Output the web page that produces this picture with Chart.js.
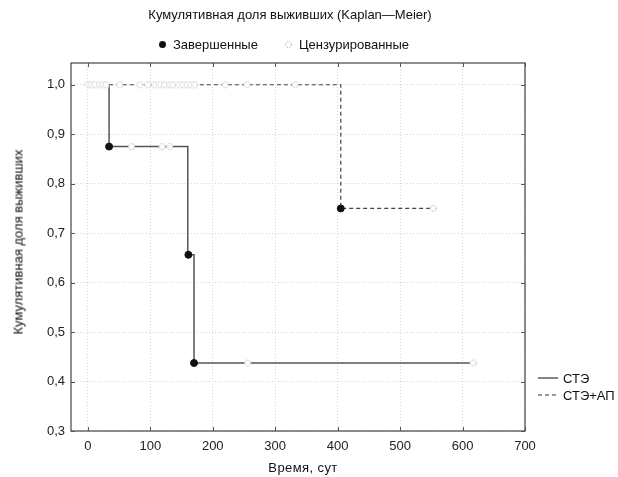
<!DOCTYPE html>
<html><head><meta charset="utf-8">
<script src="https://cdn.jsdelivr.net/npm/chart.js@4.4.0/dist/chart.umd.min.js"></script>
<style>
html,body{margin:0;padding:0;background:#fff;}
#wrap{position:relative;width:618px;height:477px;font-family:"Liberation Sans",Arial,sans-serif;color:#111;}
#c{position:absolute;left:0;top:0;}
.t{position:absolute;white-space:nowrap;line-height:1;}
</style></head><body>
<div id="wrap">
<canvas id="c" width="618" height="477"></canvas>
<div class="t" style="left:0;width:580px;top:8px;text-align:center;font-size:13px;">Кумулятивная доля выживших (Kaplan—Meier)</div>
<div class="t" style="left:158px;top:38px;font-size:13px;"><svg width="9" height="9" style="vertical-align:0px;margin-right:6px"><circle cx="4.5" cy="4.5" r="3.5" fill="#111"/></svg>Завершенные</div>
<div class="t" style="left:284px;top:38px;font-size:13px;"><svg width="9" height="9" style="vertical-align:0px;margin-right:6px"><circle cx="4.5" cy="4.5" r="3" fill="#fff" stroke="#999" stroke-width="1" stroke-dasharray="1 1.5"/></svg>Цензурированные</div>
<div class="t" style="left:538px;top:372px;font-size:13px;"><svg width="20" height="4" style="vertical-align:3px;margin-right:5px"><line x1="0" y1="2" x2="20" y2="2" stroke="#333" stroke-width="1.2"/></svg>СТЭ</div>
<div class="t" style="left:538px;top:389px;font-size:13px;"><svg width="20" height="4" style="vertical-align:3px;margin-right:5px"><line x1="0" y1="2" x2="20" y2="2" stroke="#333" stroke-width="1.2" stroke-dasharray="4 3"/></svg>СТЭ+АП</div>
<div class="t" style="left:18px;top:242px;font-size:13px;transform:translate(-50%,-50%) rotate(-90deg);">Кумулятивная доля выживших</div>
<div class="t" style="left:303px;top:467px;font-size:13px;letter-spacing:0.4px;transform:translate(-50%,-50%);">Время, сут</div>
</div>
<script>
// ---- data ----
const xTicks = [0, 100, 200, 300, 400, 500, 600, 700];
const yTicks = [0.3, 0.4, 0.5, 0.6, 0.7, 0.8, 0.9, 1.0];
const steTimes = [0, 34, 160, 170, 617];
const steSurv  = [1.0, 0.875, 0.65625, 0.4375, 0.4375];
const apTimes  = [0, 405, 553];
const apSurv   = [1.0, 0.75, 0.75];
const eventTimes = [34, 161, 170, 405];
const eventSurv  = [0.875, 0.65625, 0.4375, 0.75];
const steCensTimes = [70, 119, 131, 256, 617];
const steCensSurv  = [0.875, 0.875, 0.875, 0.4375, 0.4375];
const apCensTimes = [0, 5, 11, 19, 24, 29, 51, 83, 96, 107, 115, 123, 131, 136, 146, 152, 159, 165, 171, 220, 255, 332, 553];
const apCensSurv  = [1, 1, 1, 1, 1, 1, 1, 1, 1, 1, 1, 1, 1, 1, 1, 1, 1, 1, 1, 1, 1, 1, 0.75];

const pts = (xs, ys) => xs.map((x, i) => ({x: x, y: ys[i]}));

// censored marker: small dotted circle
const cens = document.createElement('canvas');
cens.width = 9; cens.height = 9;
(function(){
  const g = cens.getContext('2d');
  g.fillStyle = '#fff';
  g.beginPath(); g.arc(4.5, 4.5, 3.5, 0, Math.PI*2); g.fill();
  g.strokeStyle = '#999'; g.lineWidth = 1; g.setLineDash([1, 1.5]);
  g.beginPath(); g.arc(4.5, 4.5, 3, 0, Math.PI*2); g.stroke();
})();

const framePlugin = {
  id: 'frame',
  afterDraw(chart) {
    const {ctx, chartArea: a, scales} = chart;
    ctx.save();
    ctx.strokeStyle = '#444'; ctx.lineWidth = 1.2;
    ctx.strokeRect(a.left, a.top, a.right - a.left, a.bottom - a.top);
    ctx.lineWidth = 1; ctx.strokeStyle = '#555';
    ctx.beginPath();
    xTicks.forEach(v => {
      const x = Math.round(scales.x.getPixelForValue(v)) + 0.5;
      ctx.moveTo(x, a.bottom); ctx.lineTo(x, a.bottom - 4);
      ctx.moveTo(x, a.top); ctx.lineTo(x, a.top + 4);
    });
    yTicks.forEach(v => {
      const y = Math.round(scales.y.getPixelForValue(v)) + 0.5;
      ctx.moveTo(a.left, y); ctx.lineTo(a.left + 4, y);
      ctx.moveTo(a.right, y); ctx.lineTo(a.right - 4, y);
    });
    ctx.stroke();
    ctx.restore();
  }
};

new Chart(document.getElementById('c'), {
  type: 'scatter',
  data: {
    datasets: [
      {label: 'Завершенные', data: pts(eventTimes, eventSurv), pointStyle: 'circle', pointRadius: 3.5,
       backgroundColor: '#111', borderColor: '#111', showLine: false, order: 0},
      {label: 'Цензурированные СТЭ', data: pts(steCensTimes, steCensSurv), pointStyle: cens, showLine: false, order: 1},
      {label: 'Цензурированные СТЭ+АП', data: pts(apCensTimes, apCensSurv), pointStyle: cens, showLine: false, order: 1},
      {label: 'СТЭ', data: pts(steTimes, steSurv), showLine: true, stepped: 'before', pointRadius: 0,
       borderColor: '#555', borderWidth: 1.5, order: 2},
      {label: 'СТЭ+АП', data: pts(apTimes, apSurv), showLine: true, stepped: 'before', pointRadius: 0,
       borderColor: '#444', borderWidth: 1.2, borderDash: [4, 3], order: 2}
    ]
  },
  options: {
    responsive: false,
    animation: false,
    layout: {padding: {left: 0, right: 93, top: 63, bottom: 0}},
    plugins: {legend: {display: false}, title: {display: false}, tooltip: {enabled: false}},
    scales: {
      x: {
        type: 'linear', min: -27, max: 700,
        afterBuildTicks: s => { s.ticks = xTicks.map(v => ({value: v})); },
        afterFit: s => { s.height = 46; },
        grid: {color: '#d4d4d4', drawTicks: false, lineWidth: 1},
        border: {display: false, dash: [1, 2]},
        ticks: {padding: 8, color: '#222', font: {family: 'Liberation Sans', size: 13}, maxRotation: 0}
      },
      y: {
        type: 'linear', min: 0.3, max: 1.044,
        afterBuildTicks: s => { s.ticks = yTicks.map(v => ({value: v})); },
        afterFit: s => { s.width = 71; },
        grid: {color: '#d4d4d4', drawTicks: false, lineWidth: 1},
        border: {display: false, dash: [1, 2]},
        ticks: {padding: 6, color: '#222', font: {family: 'Liberation Sans', size: 13},
                callback: v => v.toFixed(1).replace('.', ',')}
      }
    }
  },
  plugins: [framePlugin]
});
</script>
</body></html>
